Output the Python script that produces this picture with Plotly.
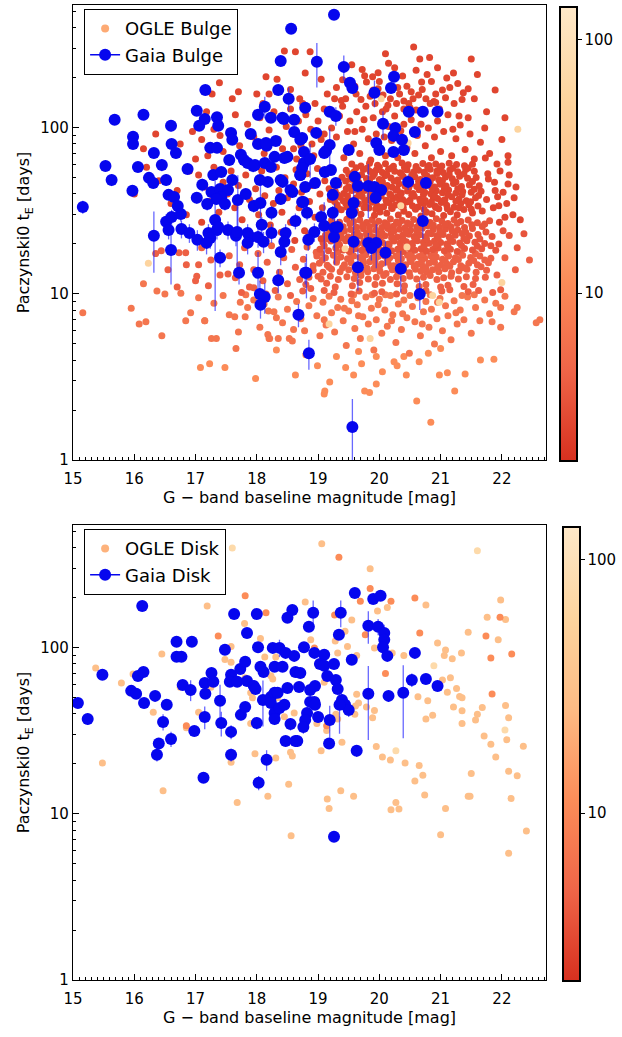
import numpy as np
import plotly.graph_objects as go

# ---------------- Gaia bulge: (G baseline mag, tE [days], tE error) ----------------
gaia_bulge = [
(15.16,33.4,3),(15.53,59.0,4),(15.63,48.6,4),(15.68,112,6),(15.98,88.3,5),(15.98,80.1,5),(16.15,120,6),
(16.06,58.2,4),(15.97,41.8,3),(16.24,50.0,4),(16.31,46.6,3),(16.32,70.7,5),(16.45,59.8,5),(16.52,48.6,4),
(16.60,103,8),(16.61,80.1,5),(16.68,70.7,5),(16.87,56.6,4),(16.32,22.4,9),(16.52,27.2,3),(16.56,24.3,3),
(16.61,29.1,3),(16.56,39.5,3),(16.65,38.4,3),(16.71,33.9,3),(16.76,30.3,3),(16.77,24.6,3),(16.90,23.3,3),
(17.02,37.9,3),(17.03,21.2,3),(17.16,169,8),(17.02,127,6),(17.15,113,6),(17.06,103,5),(17.35,116,6),
(17.37,103,5),(17.58,93.3,5),(17.60,84.7,5),(17.55,64.1,5),(17.74,68.8,5),(17.79,64.1,5),(17.94,59.0,5),
(17.24,75.8,4),(17.35,75.8,4),(17.11,45.4,4),(17.26,41.1,3),(17.40,42.9,3),(17.53,42.3,3),(17.42,38.4,3),
(17.34,37.3,3),(17.48,34.8,3),(17.19,34.8,3),(17.32,27.9,20),(17.53,24.3,3),(17.21,23.3,3),(17.35,24.3,3),
(17.66,22.4,3),(17.85,23.3,3),(17.69,36.8,15),(17.82,40.0,3),(17.95,33.9,3),(17.90,92.0,5),(17.29,52.1,4),
(17.42,54.3,4),(17.60,48.6,4),(18.06,35.3,10),(16.60,18.4,7),(17.24,21.7,3),(17.18,20.3,3),(17.37,25.3,3),
(17.68,23.6,10),(17.89,22.0,3),(17.85,20.3,3),(18.02,22.0,3),(18.11,20.6,3),(18.08,26.1,3),(18.24,30.8,3),
(18.24,23.3,3),(18.47,23.3,3),(18.45,20.6,3),(18.39,17.9,3),(18.63,27.5,3),(18.39,37.3,3),(18.55,42.3,3),
(18.74,35.8,3),(17.40,16.5,2),(17.71,13.4,2),(18.02,13.4,4.5),(18.35,12.1,2),(18.05,10.0,2),(18.13,9.6,2),
(18.79,13.4,2),(17.85,61.5,4),(17.97,59.8,4),(18.13,61.5,4),(18.29,66.9,4),(18.45,65.9,4),(18.18,47.3,3),
(18.42,47.3,3),(18.58,41.1,3),(18.71,52.1,4),(18.77,61.5,4),(18.02,80.1,5),(18.13,134,20),(18.23,115,6),
(18.16,78.0,5),(18.35,169,8),(18.39,253,12),(18.56,395,15),(18.42,115,6),(18.52,150,25),(18.05,48.6,3),
(18.23,58.2,4),(18.39,48.6,3),(19.26,480,20),(18.98,250,75),(19.42,233,40),(19.52,187,10),(19.56,174,10),
(19.92,163,30),(20.24,203,10),(20.19,174,10),(18.79,132,6),(19.19,125,6),(19.29,118,15),(20.48,125,6),
(20.71,125,6),(20.95,125,6),(20.06,106,20),(20.26,100,5),(20.23,89.5,5),(20.58,94.6,5),(18.97,93.3,5),
(18.74,87.0,5),(19.95,81.2,5),(20.37,84.7,5),(19.50,73.6,5),(19.13,72.6,5),(19.19,79.0,20),(20.00,73.6,5),
(20.23,71.6,5),(20.40,73.6,5),(18.77,71.6,5),(18.87,65.0,15),(19.10,70.7,5),(18.74,57.4,4),(18.71,52.1,4),
(19.11,54.3,4),(19.21,55.8,4),(19.60,50.7,4),(19.65,44.7,4),(19.82,44.7,16),(19.92,44.1,3),(20.03,42.3,3),
(19.94,37.9,3),(20.47,47.3,5),(20.76,46.6,3),(18.79,44.1,3),(18.95,46.6,3),(19.24,39.5,3),(19.29,46.6,3),
(18.76,35.8,3),(18.82,30.8,3),(19.05,29.1,3),(19.10,25.7,10),(19.24,30.8,3),(19.27,25.0,10),(18.94,23.6,3),
(18.84,21.2,3),(19.26,22.0,3),(19.32,25.3,3),(19.58,35.3,12),(19.55,30.8,3),(19.58,20.6,3),(19.82,20.3,3),
(19.95,20.3,6),(19.87,18.9,3),(20.10,17.7,3),(19.65,14.5,4),(20.35,14.2,4),(20.71,27.5,6),(18.81,13.4,4),
(20.66,10.0,2),(18.68,7.5,1.2),(18.85,4.4,0.9),(19.56,1.58,0.75),(18.61,94.6,5),(18.71,84.7,5),(18.50,66.9,4),
(18.31,83.5,5),(18.15,81.2,5),(18.02,120,6),(18.44,113,6),(18.61,112,6),(18.06,8.6,1.5),
]

# ---------------- Gaia disk: (G baseline mag, tE [days], tE error) ----------------
gaia_disk = [
(15.08,46.6,3),(15.24,37.3,3),(15.48,68.8,4),(16.13,179,8),(16.06,67.8,4),(16.15,71.6,4),(15.95,55.1,3),
(16.03,52.9,3),(16.16,46.6,3),(16.34,51.4,3),(16.53,45.4,3),(16.47,35.8,4),(16.60,28.3,3),(16.40,26.6,2),
(16.37,22.7,2),(16.69,109,6),(16.94,109,6),(16.69,88.3,5),(16.77,88.3,5),(16.79,59.8,4),(16.92,55.8,8),
(16.98,31.6,2),(17.15,38.4,6),(17.16,52.9,3),(17.15,61.5,4),(17.26,70.7,4),(17.29,62.5,4),(17.40,48.0,12),
(17.42,35.3,6),(17.48,97.3,5),(17.58,31.2,3),(17.58,22.7,2),(17.63,160,8),(17.58,68.8,4),(17.56,62.5,4),
(17.68,62.5,4),(17.73,74.7,4),(17.81,82.4,5),(17.84,123,6),(17.84,63.2,4),(17.74,39.5,3),(17.81,44.1,3),
(17.95,59.0,4),(17.98,56.6,4),(18.00,160,8),(18.02,101,5),(18.00,35.3,3),(18.06,76.9,4),(18.11,71.6,4),
(18.10,48.6,15),(18.16,21.2,3),(18.26,100,5),(18.37,100,12),(18.29,76.9,4),(18.42,76.9,4),(18.47,93.3,5),
(18.50,152,8),(18.58,169,10),(18.23,50.7,3),(18.29,53.6,3),(18.34,53.6,3),(18.23,46.6,3),(18.29,40.6,3),
(18.37,43.5,3),(18.29,37.3,3),(18.45,45.4,3),(18.50,57.4,4),(18.55,34.8,3),(18.47,27.5,2),(18.63,27.5,2),
(18.63,71.6,4),(18.61,89.5,5),(19.60,214,10),(19.90,197,8),(20.02,206,8),(18.92,163,30),(19.37,163,30),
(18.85,134,8),(19.34,120,6),(19.82,136,30),(19.98,134,15),(20.08,123,15),(20.08,112,6),(20.06,101,6),
(20.13,89.5,5),(20.58,93.3,5),(18.77,101,5),(18.94,93.3,5),(19.10,90.8,5),(19.03,80.1,4),(19.10,78.0,4),
(19.26,80.1,4),(19.55,84.7,5),(19.15,67.8,4),(19.29,64.1,4),(19.32,56.6,4),(18.71,70.7,4),(18.69,58.2,4),
(18.87,55.8,4),(18.95,59.0,4),(19.82,52.9,25),(20.15,51.4,4),(20.39,53.6,25),(20.53,64.1,6),(20.76,65.0,4),
(20.95,59.0,4),(19.39,48.6,4),(19.44,45.4,4),(19.50,42.3,4),(19.35,45.4,15),(18.87,47.3,3),(18.94,47.3,3),
(18.82,40.6,3),(18.79,36.8,3),(19.00,38.4,3),(19.19,36.8,8),(18.76,33.4,3),(19.18,26.6,2),(19.63,24.0,2),
(18.66,27.5,2),(18.95,45.4,3),(17.13,16.5,1),(18.03,15.4,1.5),(19.26,7.3,0.5),
]

# ---------------- OGLE bulge events: (G baseline mag, tE), grouped by colour value ----------------
ogle_bulge_dark_value = 3.0
ogle_bulge_dark = [
(18.45,290),(18.63,287),(18.87,287),(20.56,307),(20.66,260),(21.21,214),(21.89,169),(21.37,163),(21.03,169),
(20.69,189),(20.89,144),(20.83,140),(20.55,150),(20.40,145),(19.89,203),(19.76,206),(19.79,189),(19.90,169),
(19.45,150),(19.38,146),(19.27,150),(20.11,130),(20.14,137),(20.48,140),(20.60,128),(20.50,132),(20.92,142),
(21.30,118),(17.39,187),(17.27,160),(18.79,214),(18.15,203),(18.33,196),(17.70,165),(18.00,160),(18.55,170),
(19.05,196),(19.60,178),(19.15,160),(18.70,150),(21.60,210),(21.75,125),(22.05,115),(21.55,150),(20.25,230),
(20.00,190),(19.55,240),(20.85,190),(21.15,175),(20.30,175),(20.70,170),
(19.62,160),(19.70,148),(19.85,155),(19.98,172),(20.06,158),(20.18,150),(20.33,160),(20.45,178),(20.52,165),
(20.64,158),(20.76,150),(20.92,160),(21.08,152),(21.22,140),(21.35,148),(19.72,225),(19.98,215),(20.15,245),
(20.38,205),(20.60,222),(20.78,210),(20.95,230),(21.10,200),(21.28,185),(21.45,172),(19.40,195),(19.30,175),
(20.10,280),(20.82,265),(21.50,260),
(17.55,95),(17.65,120),(17.72,78),(17.85,105),(17.95,88),(18.05,115),(18.12,70),(18.20,97),(18.28,125),
(18.35,85),(18.42,75),(18.48,102),(17.30,98),(17.45,72),(17.10,85),(16.95,95),(17.18,125),(18.10,140),
(18.55,130),(18.60,92),(18.68,110),(18.72,78),(18.80,120),(18.88,98),(18.93,68),(19.00,110),(19.05,85),
(19.10,130),(19.15,72),(19.22,100),(19.30,88),(19.35,118),(19.42,66),(19.48,95),(18.65,65),(18.95,140),
(19.40,135),(19.52,110),(19.58,80),(19.63,125),(19.68,70),(19.72,98),(19.78,135),(19.82,86),(19.86,64),
(19.90,115),(19.95,92),(20.00,76),(20.05,125),(20.10,68),(20.15,102),(20.20,84),(20.25,118),(20.30,66),
(20.35,96),(20.40,130),(20.45,76),(19.60,95),(19.75,112),(20.08,88),(20.28,140),(19.93,140),(20.40,105),
(20.52,112),(20.58,70),(20.62,90),(20.70,124),(20.75,78),(20.80,100),(20.85,66),(20.90,88),(20.95,110),
(21.00,72),(21.05,95),(21.12,120),(21.18,68),(21.25,86),(21.32,104),(21.40,74),(21.48,92),(21.55,65),
(21.65,82),(21.72,100),(20.68,105),(20.98,130),(21.20,98),(21.45,115),(21.80,70),(22.00,85),(22.10,68),
(19.25,30.5),(19.38,32.1),(19.52,29.6),(19.61,31.8),(19.70,30.2),(19.83,32.9),(19.92,29.8),(20.01,31.2),
(20.12,30.6),(20.20,33.0),(20.31,29.9),(20.40,31.5),(20.48,30.1),(20.59,32.4),(20.68,29.5),(20.77,31.0),
(20.86,30.4),(20.97,32.6),(21.05,29.7),(21.16,31.3),(21.27,30.0),(21.38,32.2),(21.52,30.7),(21.68,31.6),
(19.31,34.5),(19.45,35.2),(19.57,33.6),(19.66,34.9),(19.77,33.8),(19.88,35.6),(19.96,34.1),(20.07,33.5),
(20.16,35.4),(20.26,34.3),(20.35,33.7),(20.44,35.8),(20.54,34.0),(20.63,33.4),(20.72,35.1),(20.82,34.6),
(20.91,33.9),(21.01,35.5),(21.10,34.2),(21.22,33.3),(21.33,35.0),(21.46,34.4),(21.61,33.8),
(19.20,37.0),(19.36,38.2),(19.49,36.9),(19.62,37.8),(19.72,38.6),(19.81,36.8),(19.90,37.5),(20.03,38.9),
(20.11,36.7),(20.22,37.4),(20.29,38.4),(20.38,37.1),(20.50,36.6),(20.57,38.7),(20.66,37.2),(20.75,36.5),
(20.88,38.1),(20.95,37.6),(21.07,36.9),(21.18,38.5),(21.30,37.3),(21.42,36.4),(21.57,38.0),(21.75,37.0),
(19.28,41.5),(19.42,40.2),(19.55,42.0),(19.67,40.8),(19.76,41.9),(19.86,40.4),(19.98,42.3),(20.06,41.1),
(20.17,40.0),(20.27,42.1),(20.36,40.6),(20.46,41.7),(20.55,40.3),(20.65,42.4),(20.74,41.0),(20.84,40.1),
(20.93,41.8),(21.03,40.7),(21.13,42.2),(21.25,40.5),(21.36,41.4),(21.50,40.9),(21.66,41.6),
(19.34,45.5),(19.50,44.2),(19.60,46.0),(19.71,44.8),(19.80,45.9),(19.93,44.1),(20.02,46.3),(20.13,45.0),
(20.21,43.9),(20.32,46.1),(20.42,44.6),(20.51,45.7),(20.61,44.3),(20.70,46.4),(20.79,45.2),(20.90,44.0),
(20.99,45.8),(21.09,44.7),(21.21,46.2),(21.34,44.4),(21.47,45.3),(21.63,44.9),
(19.39,50.5),(19.53,49.0),(19.65,51.2),(19.79,49.6),(19.89,50.9),(20.00,48.8),(20.09,51.5),(20.19,49.9),
(20.30,48.6),(20.39,51.0),(20.49,49.3),(20.58,50.7),(20.67,48.9),(20.78,51.3),(20.87,50.1),(20.97,48.7),
(21.08,50.6),(21.19,49.4),(21.31,51.1),(21.44,49.7),(21.58,50.3),(21.78,49.2),
(19.46,55.5),(19.58,54.0),(19.74,56.1),(19.85,54.6),(19.95,55.8),(20.05,53.9),(20.15,56.3),(20.25,54.8),
(20.34,53.7),(20.45,56.0),(20.56,54.3),(20.64,55.6),(20.73,54.1),(20.83,56.4),(20.94,55.0),(21.04,53.8),
(21.15,55.7),(21.28,54.5),(21.41,56.2),(21.55,54.9),
(19.55,60.5),(19.70,59.0),(19.84,61.3),(19.97,59.6),(20.10,60.9),(20.23,58.8),(20.37,61.5),(20.47,59.9),
(20.60,58.6),(20.71,61.0),(20.81,59.3),(20.92,60.7),(21.02,58.9),(21.14,61.2),(21.26,60.1),(21.39,59.1),
(21.52,60.4),
(19.33,32.8),(19.47,33.4),(19.59,32.6),(19.75,33.0),(19.94,32.5),(20.03,33.3),(20.21,32.7),(20.39,33.2),
(20.58,32.9),(20.73,32.4),(20.92,33.1),(21.11,32.6),(21.30,33.0),(21.50,32.4),
(19.27,36.0),(19.41,36.4),(19.58,35.8),(19.76,36.3),(19.94,36.1),(20.12,35.9),(20.33,36.5),(20.49,36.0),
(20.67,36.2),(20.85,35.8),(21.04,36.4),(21.25,36.1),(21.49,35.9),
(19.32,39.4),(19.48,39.0),(19.67,39.6),(19.85,39.2),(20.00,39.8),(20.19,39.1),(20.34,39.5),(20.53,39.3),
(20.72,39.7),(20.90,39.0),(21.12,39.4),(21.35,39.6),(21.62,39.2),
(19.46,43.0),(19.62,42.6),(19.81,43.3),(19.95,42.8),(20.10,43.1),(20.29,42.7),(20.48,43.4),(20.68,42.9),
(20.86,43.2),(21.06,42.8),(21.28,43.0),(21.55,42.7),
(19.45,47.8),(19.66,47.2),(19.84,48.0),(20.05,47.4),(20.24,47.9),(20.44,47.3),(20.64,47.7),(20.83,47.5),
(21.03,48.1),(21.25,47.2),(21.52,47.6),
(19.50,52.8),(19.71,52.3),(19.92,53.0),(20.12,52.5),(20.36,52.9),(20.53,52.2),(20.74,52.7),(20.94,53.1),
(21.14,52.4),(21.38,52.8),
(19.62,57.6),(19.80,57.2),(20.00,57.9),(20.20,57.3),(20.41,57.7),(20.60,57.0),(20.79,57.5),(20.99,57.8),
(21.20,57.1),(21.45,57.4),
(21.73,65.9),(21.92,60.7),(22.10,46),(21.89,42),(22.05,29),(21.77,53),(21.95,34),(22.20,38),(22.30,28),
(21.86,33),(21.93,38.5),(22.02,41),(21.88,47),(22.12,52),(21.97,55),(22.18,30),(22.10,62),(22.23,44),
(21.96,27),(22.08,35),
(17.05,52),(17.15,44),(17.22,36),(17.30,58),(17.38,31),(17.45,47),(17.52,40),(17.58,55),(17.64,33),
(17.70,45),(17.76,28),(17.82,52),(17.88,37),(17.93,60),(17.98,43),(18.03,30),(18.08,55),(18.13,39),
(18.18,48),(18.22,26),(18.27,35),(18.32,58),(18.36,42),(18.41,31),(18.46,50),(18.50,38),(18.55,27),
(18.60,46),(18.64,56),(18.69,33),(18.73,41),(18.78,24),(18.82,53),(18.86,36),(18.90,45),(18.95,29),
(18.99,57),(19.03,40),(19.07,33),(19.11,48),(19.15,26),(19.18,43),
(17.60,24),(17.90,22),(18.15,21),(18.40,23.5),(18.62,21),(18.85,22.5),(19.05,21.5),(17.35,25),(17.10,27),
(16.85,30),(16.70,42),(16.90,55),(17.00,65),(16.60,35),(16.40,48),(16.20,58),(16.00,40),(16.15,75),
(16.35,92),(17.40,90),(17.20,68),(16.75,80),(18.30,68),(18.60,75),(18.90,80),(19.10,92),(18.45,115),
(18.75,140),(18.20,160),(17.60,150),
]

ogle_bulge_mid_value = 3.8
ogle_bulge_mid = [
(19.22,27.8),(19.35,27.0),(19.47,28.2),(19.58,27.3),(19.68,27.9),(19.79,26.9),(19.88,28.0),(19.99,27.4),
(20.09,26.8),(20.18,28.3),(20.28,27.1),(20.37,27.7),(20.46,26.7),(20.56,28.1),(20.65,27.2),(20.74,27.8),
(20.83,26.9),(20.93,28.4),(21.02,27.5),(21.12,26.6),(21.22,28.0),(21.33,27.3),(21.45,27.9),(21.60,26.8),
(21.80,27.6),
(19.16,25.0),(19.29,24.6),(19.41,25.4),(19.53,24.4),(19.63,25.2),(19.74,24.7),(19.84,25.5),(19.94,24.3),
(20.04,25.1),(20.14,24.8),(20.23,25.6),(20.33,24.5),(20.42,25.0),(20.51,24.2),(20.61,25.3),(20.70,24.9),
(20.79,25.7),(20.88,24.4),(20.98,25.2),(21.08,24.6),(21.17,25.4),(21.28,24.3),(21.39,25.1),(21.52,24.8),
(21.68,25.5),
(19.12,22.6),(19.25,22.2),(19.37,22.9),(19.49,22.0),(19.59,22.7),(19.69,22.3),(19.79,23.0),(19.89,22.1),
(19.99,22.8),(20.09,22.4),(20.19,23.1),(20.29,22.0),(20.38,22.6),(20.48,22.9),(20.57,22.2),(20.66,22.7),
(20.75,22.1),(20.85,23.0),(20.94,22.4),(21.04,22.8),(21.14,22.0),(21.24,22.6),(21.35,23.1),(21.47,22.3),
(21.61,22.8),(21.84,22.2),
(19.08,20.4),(19.21,20.8),(19.33,20.2),(19.45,20.9),(19.55,20.5),(19.65,20.1),(19.75,20.7),(19.85,20.3),
(19.95,21.0),(20.05,20.4),(20.15,20.0),(20.24,20.8),(20.34,20.3),(20.44,20.6),(20.53,20.1),(20.62,20.9),
(20.72,20.5),(20.81,20.2),(20.90,20.8),(21.00,20.4),(21.10,20.0),(21.20,20.7),(21.31,20.3),(21.43,20.9),
(21.56,20.5),(21.72,20.1),
(19.03,18.6),(19.17,18.2),(19.29,18.9),(19.41,18.4),(19.51,18.0),(19.61,18.7),(19.71,18.3),(19.81,18.8),
(19.91,18.1),(20.01,18.5),(20.11,18.9),(20.20,18.2),(20.30,18.6),(20.39,18.0),(20.49,18.8),(20.58,18.3),
(20.68,18.7),(20.77,18.1),(20.87,18.5),(20.96,18.9),(21.06,18.2),(21.16,18.6),(21.27,18.0),(21.39,18.8),
(21.52,18.4),(21.67,18.7),(21.90,18.3),
(19.28,26.2),(19.52,26.5),(19.73,26.0),(19.93,26.4),(20.13,26.1),(20.32,26.6),(20.51,26.2),(20.70,26.5),
(20.88,26.0),(21.07,26.3),(21.27,26.6),(21.51,26.1),(21.72,26.4),
(19.19,23.7),(19.43,23.9),(19.64,23.5),(19.84,23.8),(20.04,23.4),(20.24,23.9),(20.43,23.6),(20.62,23.8),
(20.80,23.3),(20.99,23.7),(21.19,23.9),(21.41,23.5),(21.74,23.6),
(19.15,21.5),(19.39,21.7),(19.60,21.3),(19.80,21.6),(20.00,21.4),(20.20,21.8),(20.39,21.3),(20.58,21.6),
(20.77,21.4),(20.96,21.7),(21.16,21.3),(21.38,21.6),(21.64,21.4),
(19.10,19.5),(19.35,19.7),(19.56,19.3),(19.76,19.6),(19.96,19.4),(20.16,19.8),(20.35,19.3),(20.54,19.6),
(20.73,19.4),(20.92,19.7),(21.12,19.3),(21.34,19.6),(21.60,19.4),(21.82,19.5),
(22.02,24),(21.95,20),(22.12,22.5),(22.25,19),(22.36,23),
]

ogle_bulge_low_value = 4.6
ogle_bulge_low = [
(18.98,16.9),(19.12,16.5),(19.25,17.1),(19.37,16.7),(19.48,16.3),(19.58,16.9),(19.68,16.6),(19.78,17.2),
(19.88,16.4),(19.98,16.8),(20.08,17.0),(20.17,16.5),(20.27,16.9),(20.36,16.3),(20.46,17.1),(20.55,16.6),
(20.65,16.8),(20.74,16.4),(20.84,17.0),(20.93,16.7),(21.03,16.2),(21.13,16.9),(21.24,16.5),(21.36,17.1),
(21.49,16.6),(21.64,16.9),(21.82,16.4),
(19.02,15.3),(19.15,14.9),(19.30,15.5),(19.43,15.0),(19.54,15.4),(19.64,14.8),(19.74,15.3),(19.84,15.6),
(19.94,14.9),(20.04,15.2),(20.14,15.5),(20.23,14.8),(20.33,15.4),(20.43,15.0),(20.52,15.6),(20.62,15.1),
(20.71,14.7),(20.81,15.3),(20.90,15.5),(21.00,14.9),(21.10,15.2),(21.21,15.6),(21.33,14.8),(21.46,15.3),
(21.60,15.0),(21.78,15.4),
(18.92,13.9),(19.08,13.5),(19.22,14.1),(19.36,13.6),(19.50,14.0),(19.61,13.4),(19.71,13.9),(19.81,13.6),
(19.91,14.2),(20.01,13.7),(20.11,13.3),(20.21,14.0),(20.30,13.6),(20.40,13.9),(20.49,13.4),(20.59,14.1),
(20.68,13.7),(20.78,13.5),(20.87,14.0),(20.97,13.6),(21.07,14.2),(21.18,13.4),(21.30,13.8),(21.43,14.1),
(21.58,13.5),(21.75,13.9),
(18.85,12.6),(19.05,12.3),(19.20,12.8),(19.33,12.2),(19.47,12.7),(19.59,12.4),(19.70,12.9),(19.82,12.3),
(19.95,12.6),(20.07,12.9),(20.18,12.2),(20.28,12.7),(20.39,12.4),(20.50,12.8),(20.61,12.3),(20.72,12.6),
(20.83,12.9),(20.94,12.2),(21.05,12.5),(21.17,12.8),(21.29,12.3),(21.42,12.7),(21.57,12.4),(21.73,12.6),
(18.80,11.4),(19.14,11.6),(19.28,11.0),(19.56,11.2),(19.68,11.7),(19.93,11.4),(20.05,11.6),(20.29,11.5),
(20.41,11.2),(20.65,11.1),(20.76,11.4),(21.00,11.0),(21.12,11.3),(21.38,11.1),(21.53,11.4),(21.98,10.6),
(18.75,10.4),(19.10,10.5),(19.26,10.2),(19.54,10.0),(19.67,10.4),(19.92,10.1),(20.04,10.3),(20.28,10.0),
(20.40,10.4),(20.64,10.2),(20.76,10.5),(21.02,10.4),(21.15,10.6),(21.45,10.3),(21.62,10.5),(21.85,10.2),
(19.05,17.6),(19.32,17.8),(19.54,17.5),(19.74,17.7),(19.94,17.4),(20.14,17.8),(20.33,17.5),(20.52,17.7),
(20.71,17.4),(20.90,17.8),(21.10,17.5),(21.32,17.7),(21.57,17.5),
(19.07,16.0),(19.31,16.2),(19.53,15.9),(19.73,16.1),(19.93,15.8),(20.13,16.2),(20.31,15.9),(20.50,16.1),
(20.69,15.8),(20.88,16.2),(21.07,15.9),(21.29,16.1),(21.54,15.9),(21.72,16.0),
(19.18,14.5),(19.40,14.4),(19.60,14.6),(19.80,14.3),(20.00,14.5),(20.19,14.7),(20.38,14.4),(20.57,14.6),
(20.76,14.3),(20.95,14.5),(21.15,14.7),(21.38,14.4),(21.66,14.6),
(22.05,16.5),(22.22,14),(21.92,13),(22.45,16),
(17.55,17),(17.65,12.5),(17.72,15),(17.80,19),(17.88,11),(17.95,14),(18.02,17.5),(18.10,12),(18.17,15.5),
(18.24,19.5),(18.30,10.5),(18.37,13.5),(18.44,16.5),(18.50,11.5),(18.57,18.5),(18.63,14.5),(18.70,12.2),
(18.76,16.2),(18.82,19.2),(18.88,10.8),(18.92,14.8),(18.97,17.8),(19.00,12.8),(17.40,13),(17.25,16),
(17.10,19),(17.00,12),(16.85,15),(16.70,11),(16.55,14),(16.35,17.5),(17.75,10.2),(18.15,10.0),(18.55,9.8),
(16.44,18.2),(16.73,17.7),(16.84,17.7),(17.02,12.8),(17.05,15.0),(17.21,11.2),(17.53,13.2),(17.95,10.9),
]

ogle_bulge_light_value = 7.0
ogle_bulge_light = [
(17.05,9.5),(17.15,6.9),(17.30,8.8),(17.45,9.8),(17.55,7.5),(17.70,5.9),(17.85,8.3),(17.95,9.2),(18.05,6.3),
(18.12,8.7),(18.20,5.4),(18.28,7.8),(18.35,9.6),(18.42,6.7),(18.50,8.1),(18.58,5.2),(18.65,9.0),(18.72,7.1),
(18.78,6.0),(18.85,8.5),(18.92,9.4),(18.98,7.4),(19.03,5.6),(19.08,8.9),(19.13,6.5),(19.18,9.7),(19.22,7.7),
(19.27,5.9),(19.32,8.3),(19.37,9.3),(19.41,6.9),(19.46,4.9),(19.50,7.9),(19.55,9.1),(19.60,6.2),(19.64,8.6),
(19.69,5.4),(19.73,7.3),(19.78,9.6),(19.82,6.6),(19.87,8.2),(19.91,4.6),(19.95,7.0),(20.00,9.3),(20.04,5.8),
(20.09,8.0),(20.13,6.4),(20.18,9.8),(20.22,7.5),(20.27,5.1),(20.31,8.7),(20.36,6.1),(20.40,9.2),(20.45,7.2),
(20.49,4.4),(20.54,8.4),(20.58,6.8),(20.63,9.5),(20.67,5.6),(20.72,7.8),(20.76,9.0),(20.81,6.3),(20.85,8.1),
(20.90,5.0),(20.94,7.1),(20.99,9.4),(21.03,6.0),(21.08,8.5),(21.12,7.4),(21.17,5.3),(21.22,9.1),(21.27,6.6),
(21.32,8.0),(21.38,7.0),(21.44,9.6),(21.50,5.8),(21.57,8.3),(21.64,6.9),(21.72,9.2),(21.80,7.6),(21.90,8.8),
(22.05,9.7),(22.25,8.3),(22.62,7.0),(22.20,7.8),(22.56,6.7),(21.98,6.3),(21.84,6.8),(21.98,8.3),
(19.10,7.0),(19.43,8.2),(19.66,7.4),(19.98,8.6),(20.20,6.9),(20.50,9.8),(20.70,6.6),(20.95,8.9),(21.25,7.7),
(21.55,9.9),(19.88,9.9),(20.38,7.6),(20.83,9.9),(21.35,9.8),(19.58,9.9),(20.10,9.9),
(15.16,7.7),(15.95,8.2),(16.08,6.6),(16.19,6.8),(16.15,11.5),(16.37,10.4),(16.45,5.6),(16.50,10.0),
(16.76,10.1),(16.84,6.9),(16.92,7.7),(17.15,6.9),(17.26,5.4),(17.34,5.4),(17.66,4.7),(17.73,8.9),
(17.81,7.3),(17.82,9.9),(17.64,7.3),(18.18,5.7),(18.21,5.4),(18.19,7.9),(18.32,7.2),(18.35,5.4),
(18.53,5.4),(18.60,6.1),
]

ogle_bulge_faint_value = 11.0
ogle_bulge_faint = [
(18.63,3.25),(19.95,2.87),(19.76,2.6),(19.84,2.55),(19.19,2.95),(19.11,2.6),(19.10,2.5),(19.58,3.25),
(18.99,3.7),(20.61,2.27),(20.84,1.69),(21.23,2.6),(21.11,3.35),(20.98,3.25),(21.65,4.0),(21.87,4.05),
(20.24,3.9),(20.29,3.7),(20.44,3.25),(20.40,4.2),(19.95,4.2),(19.66,4.5),(19.71,3.8),(17.08,3.6),
(17.23,3.8),(17.48,3.6),(17.98,3.1),(18.32,4.6),(19.30,4.2),(19.45,3.6),(20.05,3.4),(20.65,3.9),
(21.40,3.3),(18.80,4.3),(20.80,4.4),(21.00,4.7),
]

ogle_bulge_pale_value = 60.0
ogle_bulge_pale = [
(20.03,150),(22.26,98),(20.35,34),(20.47,81),(19.44,18.7),(20.45,19.2),(20.87,9.8),(22.0,11.7),
(20.98,8.9),(19.18,6.6),(19.85,5.4),(16.23,15.3),
]

# ---------------- OGLE disk events ----------------
ogle_disk_light_value = 30.0
ogle_disk_light = [
(17.19,179),(17.58,102),(18.06,114),(15.37,75.6),(15.79,61.5),(15.98,69.7),(16.31,41),(15.48,20.3),
(17.48,85),(17.58,82),(17.81,66),(17.90,53.6),(17.93,50),(18.13,88),(18.31,88),(18.23,68),(18.26,65),
(18.34,50),(18.39,44),(18.45,38.5),(18.31,40),(18.61,40.5),(17.58,20.5),(17.97,23),(18.16,21.5),
(18.31,21.7),(18.55,23.5),(18.58,22.3),(17.90,35),
(19.06,423),(19.85,300),(20.13,175),(20.76,181),(19.97,167),(18.79,189),(19.55,147),(19.44,126),
(19.92,100),(20.21,93),(20.40,90),(19.63,90),(19.48,102),(19.32,93),(20.95,107),(21.08,97),(21.06,90),
(21.19,86),(21.34,93),(21.45,124),(21.76,153),(21.98,194),(22.06,148),(21.94,112),(21.03,64),(21.16,66),
(21.26,57),(21.31,51),(21.35,50),(21.11,54),(21.21,44),(21.35,41.8),(21.68,43.8),(21.60,39.8),(21.57,36.8),
(22.06,45),(22.11,38),(22.08,28),(21.71,29.5),(21.82,26.3),(22.35,25.6),(21.35,35),(20.87,39.3),(20.76,37.3),
(20.79,48),(20.63,50.7),(19.63,52.5),(19.66,46.5),(19.61,44.7),(19.53,42.3),(19.60,39.8),(19.29,39.8),
(19.32,37.3),(18.98,35),(19.14,31.8),(19.79,44),(19.92,42),(19.89,38),(20.42,20.3),(20.71,17.1),(20.18,21.1),
(21.45,12.8),(17.68,11.7),(18.18,12.8),(18.52,15.1),(18.56,7.4),(19.15,12.3),(19.18,10.8),(19.37,13.8),
(19.58,12.8),(20.19,10.6),(20.27,11.7),(20.32,10.7),(20.58,15.8),(20.74,13.0),(21.0,7.5),(21.08,10.8),
(21.48,12.8),(22.11,18.1),(22.15,12.4),(22.11,5.8),(22.40,7.9),(16.47,13.8),(19.39,27),(19.05,24),
(19.95,25.5),(20.05,22),(20.65,19.6),(21.90,22),(22.25,17),(21.50,17.5),(16.85,33),(16.45,92),(17.05,41),
(18.70,60),(19.10,62),(19.28,110),(18.88,112),(17.80,140),(18.50,27),(17.25,58),(16.75,58),
]

ogle_disk_dark_value = 11.0
ogle_disk_dark = [
(17.81,206),(18.15,163),(17.37,118),(19.34,352),(19.85,228),(19.69,191),(20.19,191),(20.58,200),
(19.27,158),(19.77,120),(18.94,100),(20.66,123),(21.97,153),(21.74,118),(22.16,92),(21.82,87),
(21.84,52.7),(19.14,34),(20.10,70),(16.85,34),
]

ogle_disk_pale_value = 75.0
ogle_disk_pale = [
(17.60,400),(21.60,384),(20.89,78),(22.05,32),(20.27,24),
]

# colour-bar range (log scale)
cbar_min, cbar_max = 2.17, 135.0
color_stops = ["#d7301f", "#ef6548", "#fc8d59", "#fdbb84", "#fdd49e", "#fee8c8"]


def build(groups):
    xs, ys, cs = [], [], []
    for pts, val in groups:
        for m, t in pts:
            xs.append(m)
            ys.append(t)
            cs.append(np.log10(val))
    return xs, ys, cs


colorscale = [[i / (len(color_stops) - 1), c] for i, c in enumerate(color_stops)]
BLUE = "#0606ee"
FONT = "DejaVu Sans"

fig = go.Figure()

# --- top panel (bulge) ---
bx, by, bc = build([
    (ogle_bulge_faint, ogle_bulge_faint_value),
    (ogle_bulge_light, ogle_bulge_light_value),
    (ogle_bulge_low, ogle_bulge_low_value),
    (ogle_bulge_mid, ogle_bulge_mid_value),
    (ogle_bulge_dark, ogle_bulge_dark_value),
    (ogle_bulge_pale, ogle_bulge_pale_value),
])
fig.add_trace(go.Scatter(x=bx, y=by, mode="markers", showlegend=False, hoverinfo="skip",
                         marker=dict(size=7, color=bc, coloraxis="coloraxis", line=dict(width=0)),
                         xaxis="x", yaxis="y"))
gb = list(zip(*gaia_bulge))
fig.add_trace(go.Scatter(x=gb[0], y=gb[1], mode="markers", showlegend=False,
                         marker=dict(size=12, color=BLUE, line=dict(width=0)),
                         error_y=dict(type="data", array=gb[2], color="rgba(40,40,255,0.7)", thickness=1.3, width=0),
                         xaxis="x", yaxis="y"))
fig.add_trace(go.Scatter(x=[None], y=[None], mode="markers", name="OGLE Bulge",
                         marker=dict(size=8, color="#fdaa74"), xaxis="x", yaxis="y", legend="legend"))
fig.add_trace(go.Scatter(x=[None], y=[None], mode="lines+markers", name="Gaia Bulge",
                         marker=dict(size=12, color=BLUE), line=dict(color=BLUE, width=1.5),
                         xaxis="x", yaxis="y", legend="legend"))

# --- bottom panel (disk) ---
dx, dy, dc = build([
    (ogle_disk_light, ogle_disk_light_value),
    (ogle_disk_dark, ogle_disk_dark_value),
    (ogle_disk_pale, ogle_disk_pale_value),
])
fig.add_trace(go.Scatter(x=dx, y=dy, mode="markers", showlegend=False, hoverinfo="skip",
                         marker=dict(size=7, color=dc, coloraxis="coloraxis2", line=dict(width=0)),
                         xaxis="x2", yaxis="y2"))
gd = list(zip(*gaia_disk))
fig.add_trace(go.Scatter(x=gd[0], y=gd[1], mode="markers", showlegend=False,
                         marker=dict(size=12, color=BLUE, line=dict(width=0)),
                         error_y=dict(type="data", array=gd[2], color="rgba(40,40,255,0.7)", thickness=1.3, width=0),
                         xaxis="x2", yaxis="y2"))
fig.add_trace(go.Scatter(x=[None], y=[None], mode="markers", name="OGLE Disk",
                         marker=dict(size=8, color="#fdb27c"), xaxis="x2", yaxis="y2", legend="legend2"))
fig.add_trace(go.Scatter(x=[None], y=[None], mode="lines+markers", name="Gaia Disk",
                         marker=dict(size=12, color=BLUE), line=dict(color=BLUE, width=1.5),
                         xaxis="x2", yaxis="y2", legend="legend2"))

W, H = 622, 1037
ML, MR, MT, MB = 73, 72, 5, 57
ph = H - MT - MB


def fy(py):
    return (H - MB - py) / ph


xtitle = "G − band baseline magnitude [mag]"
ytitle = "Paczynski0 t<sub>E</sub> [days]"
minor_y = [2, 3, 4, 5, 6, 7, 8, 9, 20, 30, 40, 50, 60, 70, 80, 90, 200, 300, 400, 500]


def xaxis_cfg(anchor):
    return dict(range=[15, 22.72], tick0=15, dtick=1, ticks="inside", ticklen=6, tickwidth=1,
                tickcolor="black", showgrid=False, zeroline=False, showline=True, linecolor="black",
                linewidth=1.2, mirror=True, anchor=anchor, ticklabelstandoff=5,
                tickfont=dict(size=15, color="black", family=FONT),
                title=dict(text=xtitle, font=dict(size=16, color="black", family=FONT), standoff=0),
                minor=dict(ticks="inside", dtick=0.1, ticklen=3, tickwidth=1, tickcolor="black", showgrid=False))


def yaxis_cfg(domain, anchor):
    return dict(type="log", range=[0, 2.74], domain=domain, anchor=anchor,
                tickvals=[1, 10, 100], ticktext=["1", "10", "100"], ticks="inside", ticklen=6,
                tickwidth=1, tickcolor="black", showgrid=False, zeroline=False, showline=True,
                linecolor="black", linewidth=1.2, mirror=True,
                tickfont=dict(size=15, color="black", family=FONT),
                title=dict(text=ytitle, font=dict(size=16, color="black", family=FONT), standoff=6),
                minor=dict(tickvals=minor_y, ticks="inside", ticklen=3, tickwidth=1, tickcolor="black",
                           showgrid=False))


def cbar(py_top, py_bot, x0):
    return dict(colorscale=colorscale, cmin=np.log10(cbar_min), cmax=np.log10(cbar_max),
                colorbar=dict(x=(x0 - ML) / (W - ML - MR), xanchor="left", xref="paper",
                              y=fy(py_top), yanchor="top", len=(py_bot - py_top) / ph, lenmode="fraction",
                              thickness=17, thicknessmode="pixels", outlinewidth=2, outlinecolor="black",
                              tickvals=[1, 2], ticktext=["10", "100"], ticks="outside", ticklen=4,
                              tickcolor="black", tickfont=dict(size=15, color="black", family=FONT),
                              xpad=0, ypad=0))


fig.update_layout(
    width=W, height=H, margin=dict(l=ML, r=MR, t=MT, b=MB),
    paper_bgcolor="white", plot_bgcolor="white",
    font=dict(family=FONT, size=16, color="black"),
    xaxis=xaxis_cfg("y"), yaxis=yaxis_cfg([fy(460), fy(5)], "x"),
    xaxis2=xaxis_cfg("y2"), yaxis2=yaxis_cfg([fy(980), fy(525)], "x2"),
    coloraxis=cbar(7, 461, 564), coloraxis2=cbar(527, 981, 567),
    legend=dict(x=(84 - ML) / (W - ML - MR), y=fy(9), xanchor="left", yanchor="top",
                bgcolor="white", bordercolor="black", borderwidth=1.2,
                font=dict(size=18, color="black", family=FONT), tracegroupgap=0),
    legend2=dict(x=(84 - ML) / (W - ML - MR), y=fy(529), xanchor="left", yanchor="top",
                 bgcolor="white", bordercolor="black", borderwidth=1.2,
                 font=dict(size=18, color="black", family=FONT), tracegroupgap=0),
    showlegend=True,
)

fig.write_html("out.html")
